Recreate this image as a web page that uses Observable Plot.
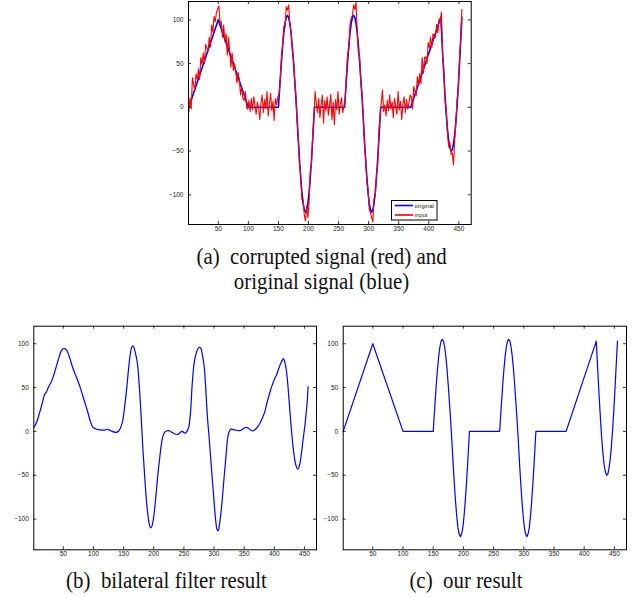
<!DOCTYPE html>
<html><head><meta charset="utf-8">
<script src="https://cdn.jsdelivr.net/npm/d3@7"></script>
<script src="https://cdn.jsdelivr.net/npm/@observablehq/plot@0.6"></script>
<style>
body{margin:0;background:#fff;}
#root{position:relative;width:635px;height:598px;overflow:hidden;background:#fff;}
.panel{position:absolute;}
.panel svg{overflow:visible;}
</style></head><body><div id="root"></div>
<script>
// ---- tick labels ----
const xTicks = [50,100,150,200,250,300,350,400,450];
const yTicks = [-100,-50,0,50,100];

// ---- original signal (also "our result") : knots ----
const origX = [1,50,100,150,
  151,153,155,157,159,161,163,165,167,169,171,173,175,177,179,180,
  181,183,185,187,189,191,193,195,197,199,201,203,205,207,209,210,
  260,
  261,263,265,267,269,271,273,275,277,279,281,283,285,287,289,290,
  291,293,295,297,299,301,303,305,307,309,311,313,315,317,319,320,
  370,420,
  421,423,425,427,429,431,433,435,437,439,441,443,445,447,449,451,453,455];
const origY = [0,100,0,0,
  11,32,52,70,85,96,103,105,103,96,85,70,52,32,11,0,
  -12,-37,-60,-80,-97,-110,-117,-120,-117,-110,-97,-80,-60,-37,-12,0,
  0,
  11,32,52,70,85,96,103,105,103,96,85,70,52,32,11,0,
  -12,-37,-60,-80,-97,-110,-117,-120,-117,-110,-97,-80,-60,-37,-12,0,
  0,103,
  89,62,37,13,-8,-25,-38,-46,-50,-49,-42,-32,-17,2,24,49,76,103];

// ---- corrupted input signal: samples at x = 1,3,5,...,455 ----
const inputStart = 1, inputStep = 2;
const inputY = [
  -6,11,-2,34,26,19,38,32,44,32,57,49,62,50,72,68,64,80,69,94,86,104,98,109,112,
  116,96,98,80,94,75,84,60,80,64,46,62,42,50,42,28,40,32,14,24,10,8,18,0,-2,
  8,-5,10,-3,12,2,-8,6,0,-14,5,14,-6,9,-2,18,-10,4,16,-4,7,-15,10,3,12,
  15,29,58,72,93,92,115,111,117,94,88,66,57,30,14,
  -16,-33,-66,-77,-105,-105,-123,-130,-113,-126,-108,-72,-64,-31,-10,
  18,5,-6,10,-12,3,14,-18,8,-4,12,-9,2,15,-14,6,-20,9,-3,18,-8,4,11,-6,2,
  8,37,61,66,95,102,105,117,112,120,86,62,58,29,15,
  -10,-42,-58,-86,-93,-118,-120,-126,-131,-104,-102,-76,-68,-27,-10,
  5,20,-5,3,-10,8,-4,14,-2,6,-12,10,1,-8,18,-3,7,-14,4,12,-6,9,-2,5,14,
  12,-2,24,18,13,35,25,39,27,57,39,57,58,50,74,68,80,68,84,82,80,95,85,101,98,
  109,58,44,8,-2,-30,-45,-40,-54,-52,-66,-38,-18,8,20,55,78,112];

// ---- bilateral filter result ----
const bilX = [1,4,7,10,13,16,19,22,25,28,31,34,37,40,43,46,49,52,55,58,61,64,67,71,75,79,83,87,91,95,99,
  103,108,114,119,123,127,131,136,140,143,146,149,152,155,158,161,163,165,167,169,171,173,176,179,
  182,185,188,191,193,195,197,200,203,206,209,212,215,218,221,224,227,231,235,239,243,246,248,250,252,255,
  258,261,264,267,270,273,276,278,280,282,284,286,289,292,295,298,301,303,305,307,309,311,314,317,320,323,
  326,329,332,336,340,344,348,352,356,360,364,368,372,376,380,384,388,392,396,400,404,408,411,413,415,417,
  419,421,424,427,430,433,436,439,442,445,448,451,453,455,456];
const bilY = [5,8,13,20,27,35,42,45,50,54,58,64,71,78,85,91,94,94.5,93,89,83,76,70,63,56,48,39,30,21,11,5,
  3,2,1.5,1.5,2.5,1.5,0,-1,-0.5,1.5,6,14,30,48,70,88,95,97.5,96,91,85,77,52,18,
  -20,-52,-80,-99,-107,-110,-108,-97,-78,-55,-36,-18,-6,-1,0.5,1,0.5,-1.5,-3,-3.5,-2,0,0,-1.5,-2,0,
  5,22,56,78,88,94,96,95,90,82,72,52,17,-8,-35,-62,-88,-103,-112,-113,-106,-96,-75,-50,-27,-6,
  1,3,2,1.5,1,1,3,4.5,4,2,0.5,2,5,9,15,22,33,43,52,59,65,73,78,81,83,80,
  74,64,40,13,-10,-28,-39,-43,-38,-25,-8,8,22,38,51];

const orig = origX.map((x,i)=>({x, y: origY[i]}));
const input = inputY.map((y,i)=>({x: inputStart + i*inputStep, y}));
const bil = bilX.map((x,i)=>({x, y: bilY[i]}));

const BLUE = "#0000ff", RED = "#ff0000";

function makePanel(cfg){
  const {left, top, width, height, ml, mr, mt, mb, xDomain, yDomain, marks} = cfg;
  const pw = width - ml - mr, ph = height - mt - mb, t = 3;
  const chart = Plot.plot({
    width, height, marginLeft: ml, marginRight: mr, marginTop: mt, marginBottom: mb,
    x: {domain: xDomain}, y: {domain: yDomain},
    style: {fontFamily: '"Liberation Sans", Arial, sans-serif', fontSize: "6.5px", color: "#222", background: "transparent"},
    marks: [
      ...marks,
      Plot.tickX(xTicks, {x: d=>d, insetTop: ph - t, stroke: "#000", strokeWidth: 0.8}),
      Plot.tickX(xTicks, {x: d=>d, insetBottom: ph - t, stroke: "#000", strokeWidth: 0.8}),
      Plot.tickY(yTicks, {y: d=>d, insetRight: pw - t, stroke: "#000", strokeWidth: 0.8}),
      Plot.tickY(yTicks, {y: d=>d, insetLeft: pw - t, stroke: "#000", strokeWidth: 0.8}),
      Plot.axisX({ticks: xTicks, anchor: "bottom", tickSize: 0, tickPadding: 2, label: null}),
      Plot.axisY({ticks: yTicks, anchor: "left", tickSize: 0, tickPadding: 5, label: null}),
      Plot.frame({stroke: "#000", strokeWidth: 1})
    ]
  });
  const div = document.createElement("div");
  div.className = "panel";
  div.style.left = left + "px"; div.style.top = top + "px";
  div.appendChild(chart);
  document.getElementById("root").appendChild(div);
}

// (a)
makePanel({left:150, top:0, width:330, height:240, ml:38, mr:9.3, mt:1, mb:16,
  xDomain:[0.5,470.5], yDomain:[-134,121],
  marks:[
    Plot.line(orig, {x:"x", y:"y", stroke: BLUE, strokeWidth: 1.6, clip: true}),
    Plot.line(input, {x:"x", y:"y", stroke: RED, strokeWidth: 1.1, clip: true})
  ]});
// (b)
makePanel({left:0, top:310, width:322, height:256, ml:33.3, mr:6, mt:15.7, mb:16.7,
  xDomain:[1,470], yDomain:[-135,120],
  marks:[ Plot.line(bil, {x:"x", y:"y", stroke: BLUE, strokeWidth: 1.2, curve: "catmull-rom", clip: true}) ]});
// (c)
makePanel({left:320, top:310, width:315, height:256, ml:22.7, mr:9, mt:15.7, mb:16.7,
  xDomain:[1,470], yDomain:[-135,120],
  marks:[ Plot.line(orig, {x:"x", y:"y", stroke: BLUE, strokeWidth: 1.2, clip: true}) ]});

// legend + captions overlay
const NS = "http://www.w3.org/2000/svg";
const ov = document.createElementNS(NS, "svg");
ov.setAttribute("width", 635); ov.setAttribute("height", 598);
ov.style.position = "absolute"; ov.style.left = "0"; ov.style.top = "0";
function el(tag, attrs, text){
  const e = document.createElementNS(NS, tag);
  for (const k in attrs) e.setAttribute(k, attrs[k]);
  if (text != null) e.textContent = text;
  ov.appendChild(e); return e;
}
// legend
el("rect", {x:391.5, y:200.5, width:45.5, height:19.5, fill:"#fff", stroke:"#000", "stroke-width":1});
el("line", {x1:395, x2:413, y1:205.5, y2:205.5, stroke:BLUE, "stroke-width":1.6});
el("line", {x1:395, x2:413, y1:215, y2:215, stroke:RED, "stroke-width":1.6});
el("text", {x:414.5, y:207.5, "font-family":'"Liberation Sans", Arial, sans-serif', "font-size":6, fill:"#222"}, "original");
el("text", {x:414.5, y:217, "font-family":'"Liberation Sans", Arial, sans-serif', "font-size":6, fill:"#222"}, "input");
// captions
const captions = [
  {cx:321.5, by:264, t:"(a)\u00a0\u00a0corrupted signal (red) and"},
  {cx:321.5, by:289, t:"original signal (blue)"},
  {cx:166.5, by:588, t:"(b)\u00a0\u00a0bilateral filter result"},
  {cx:466, by:588, t:"(c)\u00a0\u00a0our result"}
];
for (const c of captions){
  el("text", {transform:`translate(${c.cx},${c.by}) scale(0.89,1)`, x:0, y:0, "text-anchor":"middle",
    "font-family":'"Liberation Serif", "Times New Roman", serif', "font-size":23.5, fill:"#111"}, c.t);
}
document.getElementById("root").appendChild(ov);
</script>
</body></html>
